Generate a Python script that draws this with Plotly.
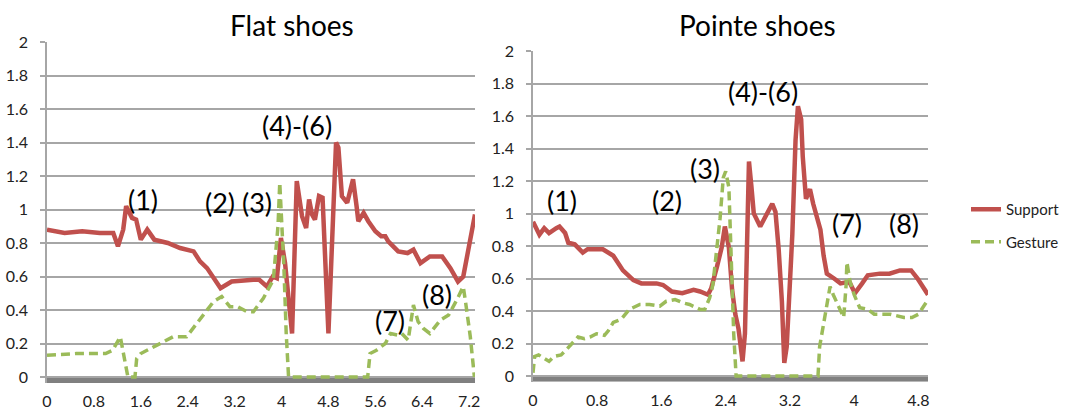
import plotly.graph_objects as go

# ---------------- data ----------------
flat_support_x = [0, 0.3, 0.6, 0.9, 1.13, 1.21, 1.30, 1.35, 1.45, 1.52, 1.60, 1.71, 1.83, 1.93, 2.06,
                  2.27, 2.50, 2.61, 2.73, 2.96, 3.15, 3.52, 3.62, 3.75, 3.85, 3.92, 3.99, 4.06, 4.10,
                  4.18, 4.26, 4.35, 4.42, 4.47, 4.52, 4.57, 4.64, 4.70, 4.80, 4.88, 4.93, 4.97, 5.03,
                  5.12, 5.22, 5.28, 5.31, 5.40, 5.48, 5.60, 5.70, 5.77, 5.82, 5.99, 6.15, 6.25, 6.37,
                  6.53, 6.74, 6.88, 7.01, 7.10, 7.22, 7.30]
flat_support_y = [0.88, 0.86, 0.87, 0.86, 0.86, 0.78, 0.88, 1.02, 0.95, 0.94, 0.82, 0.88, 0.82, 0.81, 0.80,
                  0.77, 0.75, 0.69, 0.65, 0.53, 0.57, 0.58, 0.58, 0.54, 0.60, 0.59, 0.83, 0.68, 0.52,
                  0.26, 1.17, 0.96, 0.89, 1.06, 0.97, 0.94, 1.08, 1.07, 0.26, 1.08, 1.40, 1.37, 1.08,
                  1.04, 1.18, 1.02, 0.93, 0.98, 0.93, 0.87, 0.84, 0.84, 0.81, 0.75, 0.74, 0.76, 0.68,
                  0.72, 0.72, 0.65, 0.57, 0.60, 0.82, 0.97]

flat_gesture_x = [0, 0.5, 1.0, 1.12, 1.25, 1.33, 1.38, 1.50, 1.53, 1.60, 1.81, 1.98, 2.15, 2.38, 2.47,
                  2.84, 2.98, 3.12, 3.25, 3.41, 3.52, 3.69, 3.86, 3.94, 3.97, 4.04, 4.08, 4.12, 5.47,
                  5.51, 5.62, 5.77, 5.86, 5.98, 6.05, 6.16, 6.25, 6.33, 6.42, 6.53, 6.71, 6.85, 6.99,
                  7.10, 7.15, 7.22, 7.29]
flat_gesture_y = [0.13, 0.14, 0.14, 0.16, 0.24, 0.08, 0.0, 0.0, 0.11, 0.14, 0.18, 0.21, 0.24, 0.24, 0.28,
                  0.45, 0.48, 0.42, 0.42, 0.39, 0.39, 0.47, 0.58, 0.90, 1.16, 0.66, 0.26, 0.0, 0.0,
                  0.14, 0.16, 0.20, 0.26, 0.25, 0.26, 0.22, 0.43, 0.33, 0.29, 0.26, 0.34, 0.37, 0.46,
                  0.54, 0.42, 0.24, 0.0]

pointe_support_x = [0, 0.08, 0.14, 0.20, 0.29, 0.33, 0.40, 0.44, 0.52, 0.62, 0.68, 0.79, 0.87, 1.00,
                    1.12, 1.25, 1.35, 1.54, 1.62, 1.73, 1.86, 2.00, 2.08, 2.18, 2.22, 2.29, 2.35, 2.39,
                    2.44, 2.48, 2.52, 2.56, 2.61, 2.64, 2.69, 2.72, 2.75, 2.83, 2.87, 2.92, 2.98, 3.02,
                    3.06, 3.10, 3.13, 3.16, 3.23, 3.27, 3.30, 3.34, 3.36, 3.40, 3.45, 3.49, 3.58, 3.62,
                    3.66, 3.75, 3.83, 3.94, 4.01, 4.10, 4.17, 4.32, 4.44, 4.57, 4.71, 4.79, 4.86, 4.92]
pointe_support_y = [0.95, 0.87, 0.91, 0.88, 0.91, 0.92, 0.88, 0.82, 0.81, 0.76, 0.78, 0.78, 0.78, 0.74,
                    0.65, 0.59, 0.57, 0.57, 0.56, 0.52, 0.51, 0.53, 0.52, 0.50, 0.54, 0.67, 0.79, 0.92,
                    0.79, 0.53, 0.38, 0.29, 0.09, 0.26, 1.32, 1.17, 1.00, 0.92, 0.96, 1.00, 1.06, 1.01,
                    0.78, 0.46, 0.08, 0.18, 0.87, 1.45, 1.66, 1.58, 1.35, 1.09, 1.15, 1.06, 0.90, 0.74,
                    0.63, 0.60, 0.57, 0.58, 0.51, 0.57, 0.62, 0.63, 0.63, 0.65, 0.65, 0.60, 0.55, 0.50]

pointe_gesture_x = [0, 0.02, 0.07, 0.13, 0.20, 0.26, 0.35, 0.43, 0.50, 0.56, 0.64, 0.71, 0.79, 0.89,
                    0.94, 1.00, 1.10, 1.20, 1.33, 1.45, 1.58, 1.66, 1.77, 1.87, 1.95, 2.08, 2.14, 2.20,
                    2.24, 2.29, 2.33, 2.37, 2.40, 2.44, 2.47, 2.50, 2.53, 3.55, 3.57, 3.63, 3.70, 3.74,
                    3.80, 3.87, 3.90, 3.91, 3.95, 4.00, 4.07, 4.17, 4.25, 4.45, 4.62, 4.72, 4.80, 4.86,
                    4.92]
pointe_gesture_y = [0.02, 0.12, 0.13, 0.11, 0.09, 0.12, 0.13, 0.17, 0.21, 0.24, 0.23, 0.24, 0.26, 0.25,
                    0.28, 0.33, 0.35, 0.41, 0.44, 0.44, 0.43, 0.46, 0.47, 0.45, 0.44, 0.41, 0.41, 0.48,
                    0.56, 0.77, 0.97, 1.22, 1.26, 1.16, 0.67, 0.26, 0.0, 0.0, 0.18, 0.34, 0.55, 0.50,
                    0.44, 0.36, 0.56, 0.70, 0.58, 0.50, 0.42, 0.41, 0.38, 0.38, 0.36, 0.36, 0.38, 0.43,
                    0.47]

flat_xticks = [0, 0.8, 1.6, 2.4, 3.2, 4, 4.8, 5.6, 6.4, 7.2]
flat_xlabels = ["0", "0.8", "1.6", "2.4", "3.2", "4", "4.8", "5.6", "6.4", "7.2"]
pointe_xticks = [0, 0.8, 1.6, 2.4, 3.2, 4, 4.8]
pointe_xlabels = ["0", "0.8", "1.6", "2.4", "3.2", "4", "4.8"]
yticks = [0, 0.2, 0.4, 0.6, 0.8, 1.0, 1.2, 1.4, 1.6, 1.8, 2.0]
ylabels = ["0", "0.2", "0.4", "0.6", "0.8", "1", "1.2", "1.4", "1.6", "1.8", "2"]

titles = ["Flat shoes", "Pointe shoes"]
flat_marks = [("(1)", 1.64, 1.06), ("(2) (3)", 3.26, 1.04), ("(4)-(6)", 4.26, 1.50),
              ("(7)", 5.85, 0.34), ("(8)", 6.65, 0.49)]
pointe_marks = [("(1)", 0.36, 1.08), ("(2)", 1.67, 1.08), ("(3)", 2.14, 1.28),
                ("(4)-(6)", 2.87, 1.75), ("(7)", 3.91, 0.94), ("(8)", 4.62, 0.94)]

# ---------------- style ----------------
RED = "#c0504d"
GREEN = "#9bbb59"
GRID = "#a6a6a6"
TXT = "#222222"
FONT = "Lato"
W, H = 1071, 410
YMIN = -0.036

def px_x(p):  # screen pixel -> paper fraction
    return p / W

def px_y(p):
    return 1 - p / H

fig = go.Figure()

def add_pair(sx, sy, gx, gy, xa, ya, show):
    fig.add_trace(go.Scatter(x=sx, y=sy, mode="lines", name="Support", legendgroup="s",
                             showlegend=show, line=dict(color=RED, width=4.5),
                             xaxis=xa, yaxis=ya))
    fig.add_trace(go.Scatter(x=gx, y=gy, mode="lines", name="Gesture", legendgroup="g",
                             showlegend=show, line=dict(color=GREEN, width=3.5, dash="9px,5px"),
                             xaxis=xa, yaxis=ya))

add_pair(flat_support_x, flat_support_y, flat_gesture_x, flat_gesture_y, "x", "y", True)
add_pair(pointe_support_x, pointe_support_y, pointe_gesture_x, pointe_gesture_y, "x2", "y2", False)

def xax(dom, rng, tv, tt, anchor):
    return dict(domain=dom, range=rng, anchor=anchor, tickvals=tv, ticktext=tt,
                showgrid=False, zeroline=False, showline=False, ticks="",
                tickfont=dict(family=FONT, size=16, color=TXT), automargin=False,
                ticklabelstandoff=7, fixedrange=True)

def yax(dom, anchor):
    return dict(domain=dom, range=[YMIN, 2.0], anchor=anchor, tickvals=yticks, ticktext=ylabels,
                showgrid=True, gridcolor=GRID, gridwidth=1.5, zeroline=False,
                showline=True, linecolor=GRID, linewidth=1.5,
                ticks="outside", ticklen=5, tickcolor=GRID, tickwidth=1.5,
                tickfont=dict(family=FONT, size=16, color=TXT), automargin=False,
                ticklabelstandoff=9, fixedrange=True)

# left: y=0 at 377, y=2 at 42 (167.5 px/unit); right: y=0 at 376, y=2 at 51 (162.5 px/unit)
left_bottom = 377 - YMIN * 167.5
right_bottom = 376 - YMIN * 162.5

fig.update_layout(
    template="none",
    width=W, height=H, margin=dict(l=0, r=0, t=0, b=0, pad=0, autoexpand=False),
    paper_bgcolor="white", plot_bgcolor="white",
    xaxis=xax([px_x(47), px_x(475)], [0, 7.3], flat_xticks, flat_xlabels, "y"),
    yaxis=yax([px_y(left_bottom), px_y(42)], "x"),
    xaxis2=xax([px_x(533), px_x(928)], [0, 4.92], pointe_xticks, pointe_xlabels, "y2"),
    yaxis2=yax([px_y(right_bottom), px_y(51)], "x2"),
    legend=dict(x=px_x(966), y=px_y(193), xanchor="left", yanchor="top",
                font=dict(family=FONT, size=15, color=TXT), borderwidth=0,
                tracegroupgap=10, traceorder="grouped", bgcolor="rgba(0,0,0,0)"),
    showlegend=True,
)

# gray baseline bars
for xr, yr in (("x domain", "y"), ("x2 domain", "y2")):
    fig.add_shape(type="rect", xref=xr, yref=yr, x0=0, x1=1, y0=YMIN, y1=0.0,
                  fillcolor="#808080", line=dict(width=0), layer="below")

# titles
for t, cx in zip(titles, (292, 757)):
    fig.add_annotation(text=t, x=px_x(cx), y=px_y(25), xref="paper", yref="paper",
                       xanchor="center", yanchor="middle", showarrow=False,
                       font=dict(family=FONT, size=28, color="black"))

for t, x, y in flat_marks:
    fig.add_annotation(text=t, x=x, y=y, xref="x", yref="y", showarrow=False,
                       font=dict(family=FONT, size=27, color="black"))
for t, x, y in pointe_marks:
    fig.add_annotation(text=t, x=x, y=y, xref="x2", yref="y2", showarrow=False,
                       font=dict(family=FONT, size=27, color="black"))

fig.write_html(
    "out.html",
    config={"displayModeBar": False},
    post_script="document.body.style.margin='0';document.body.style.overflow='hidden';",
)
